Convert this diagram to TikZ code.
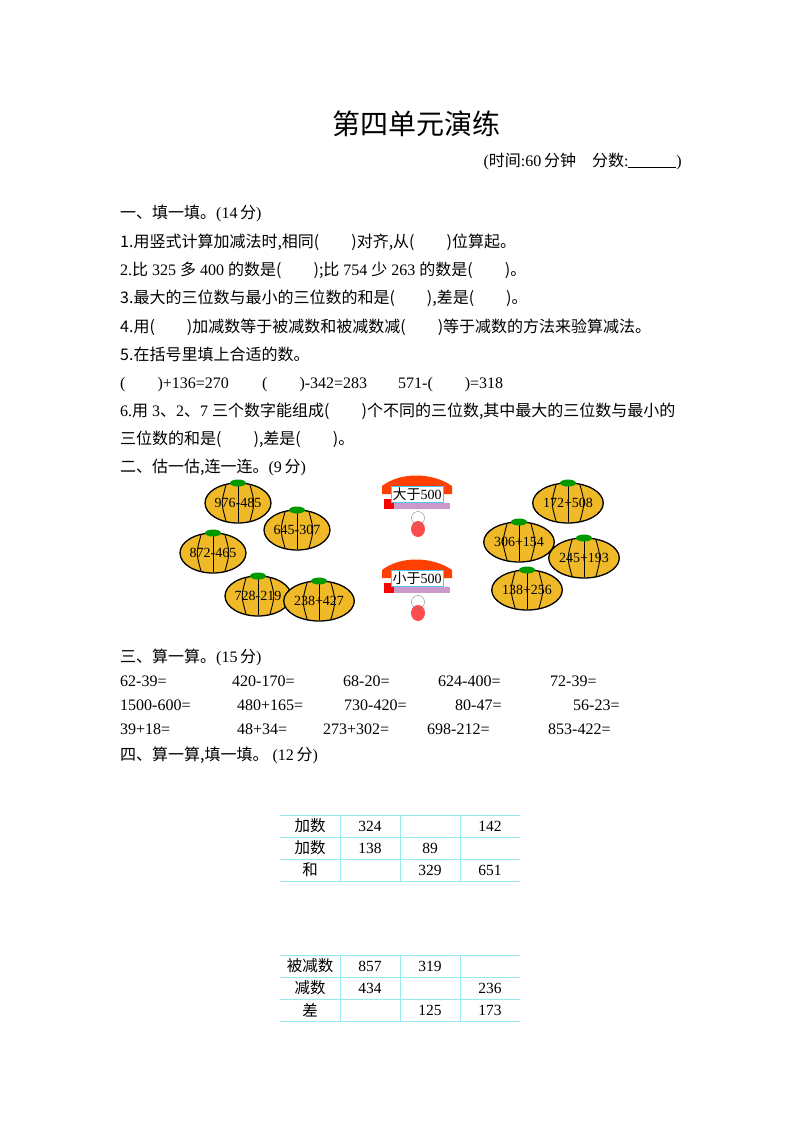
\documentclass[tikz,border=0pt]{standalone}
\usepackage{fontspec}
\usetikzlibrary{shapes.geometric}
\setmainfont{Liberation Serif}
\newfontfamily\cjk{Noto Sans CJK SC}
\newcommand{\zh}[1]{{\cjk #1}}
\definecolor{tbl}{RGB}{150,235,240}
\definecolor{pump}{RGB}{240,185,40}
\begin{document}
\begin{tikzpicture}[x=1pt,y=-1pt,
  txt/.style={anchor=base west,inner sep=0pt,font=\fontsize{16}{16}\selectfont},
  cell/.style={anchor=center,inner sep=0pt,font=\fontsize{15.5}{15.5}\selectfont},
  pk/.style={draw=black,line width=1.3pt,fill=pump,ellipse,minimum width=62pt,minimum height=40pt,inner sep=0pt,font=\fontsize{14}{14}\selectfont},
  tl/.style={draw=tbl,line width=1pt}]
\path[use as bounding box] (0,0) rectangle (800,1132);
\fill[white] (0,0) rectangle (800,1132);
\node[anchor=base,inner sep=0pt,font=\fontsize{28}{28}\selectfont\cjk] (title) at (416,134) {第四单元演练};
\node[anchor=base east,inner sep=0pt,font=\fontsize{16}{16}\selectfont] (time) at (682,166) {(\zh{时间}:60\,\zh{分钟}\quad\zh{分数}:\underline{\hspace{3em}})};
\node[txt] (s1) at (120,218) {\zh{一、填一填。}(14\,\zh{分})};
\node[txt] (q1) at (120,247) {\zh{1.用竖式计算加减法时,相同(\hspace{2em})对齐,从(\hspace{2em})位算起。}};
\node[txt] (q2) at (120,275) {2.\zh{比} 325 \zh{多} 400 \zh{的数是(\hspace{2em});比} 754 \zh{少} 263 \zh{的数是(\hspace{2em})。}};
\node[txt] (q3) at (120,303) {\zh{3.最大的三位数与最小的三位数的和是(\hspace{2em}),差是(\hspace{2em})。}};
\node[txt] (q4) at (120,332) {\zh{4.用(\hspace{2em})加减数等于被减数和被减数减(\hspace{2em})等于减数的方法来验算减法。}};
\node[txt] (q5) at (120,360) {\zh{5.在括号里填上合适的数。}};
\node[txt] (q5a) at (120,388) {(\hspace{2em})+136=270};
\node[txt] (q5b) at (262,388) {(\hspace{2em})-342=283};
\node[txt] (q5c) at (398,388) {571-(\hspace{2em})=318};
\node[txt] (q6) at (120,416) {6.\zh{用} 3\zh{、}2\zh{、}7 \zh{三个数字能组成(\hspace{2em})个不同的三位数,其中最大的三位数与最小的}};
\node[txt] (q6b) at (120,444) {\zh{三位数的和是(\hspace{2em}),差是(\hspace{2em})。}};
\node[txt] (s2) at (120,472) {\zh{二、估一估,连一连。}(9\,\zh{分})};
% pumpkins
\foreach \n/\x/\y/\t in {p1/238/503/976-485,p2/297/530/645-307,p3/213/553/872-465,p4/258/596/728-219,p5/319/601/238+427,p6/568/503/172+508,p7/519/542/306+154,p8/584/558/245+193,p9/527/590/138+256}{
  \node[pk] (\n) at (\x,\y) {\t};
  \draw[line width=0.9pt] (\x-12,\y-18) .. controls (\x-17,\y) .. (\x-12,\y+18);
  \draw[line width=0.9pt] (\x+12,\y-18) .. controls (\x+17,\y) .. (\x+12,\y+18);
  \draw[line width=0.9pt] (\x,\y-19) -- (\x,\y+19);
  \fill[green!60!black] (\x,\y-20) ellipse (8 and 3.5);
}
% houses
\foreach \n/\y/\t in {h1/494/大于,h2/578/小于}{
  \fill[red!50!orange] (382,\y-8) .. controls (400,\y-22) and (432,\y-22) .. (452,\y-8) -- (452,\y) -- (382,\y) -- cycle;
  \fill[violet!40] (384,\y+9) rectangle (450,\y+15);
  \fill[red] (384,\y+5) rectangle (394,\y+15);
  \node[draw=cyan!70,fill=white,inner sep=1.5pt,font=\fontsize{14}{14}\selectfont] (\n) at (417,\y) {\zh{\t}500};
  \fill[red!70] (418,\y+35) ellipse (7 and 8);
  \draw[gray] (418,\y+24) circle (6.5);
}
\node[txt] (s3) at (120,662) {\zh{三、算一算。}(15\,\zh{分})};
\foreach \t/\x/\y in {62-39=/120/686,420-170=/232/686,68-20=/343/686,624-400=/438/686,72-39=/550/686,
  1500-600=/120/710,480+165=/237/710,730-420=/344/710,80-47=/455/710,56-23=/573/710,
  39+18=/120/734,48+34=/237/734,273+302=/323/734,698-212=/427/734,853-422=/548/734}{
  \node[txt] at (\x,\y) {\t};
}
\node[txt] (s4) at (120,760) {\zh{四、算一算,填一填。}\ (12\,\zh{分})};
% tables
\foreach \y in {815,837,859,881,955,977,999,1021}{\draw[tl] (280,\y) -- (520,\y);}
\foreach \x in {340,400,460}{\draw[tl] (\x,815) -- (\x,881); \draw[tl] (\x,955) -- (\x,1021);}
\node[cell] (a1) at (310,826) {\zh{加数}}; \node[cell] at (370,826) {324}; \node[cell] at (490,826) {142};
\node[cell] (a2) at (310,848) {\zh{加数}}; \node[cell] at (370,848) {138}; \node[cell] at (430,848) {89};
\node[cell] (a3) at (310,870) {\zh{和}}; \node[cell] at (430,870) {329}; \node[cell] at (490,870) {651};
\node[cell] (b1) at (310,966) {\zh{被减数}}; \node[cell] at (370,966) {857}; \node[cell] at (430,966) {319};
\node[cell] (b2) at (310,988) {\zh{减数}}; \node[cell] at (370,988) {434}; \node[cell] at (490,988) {236};
\node[cell] (b3) at (310,1010) {\zh{差}}; \node[cell] at (430,1010) {125}; \node[cell] at (490,1010) {173};
\end{tikzpicture}
\end{document}
